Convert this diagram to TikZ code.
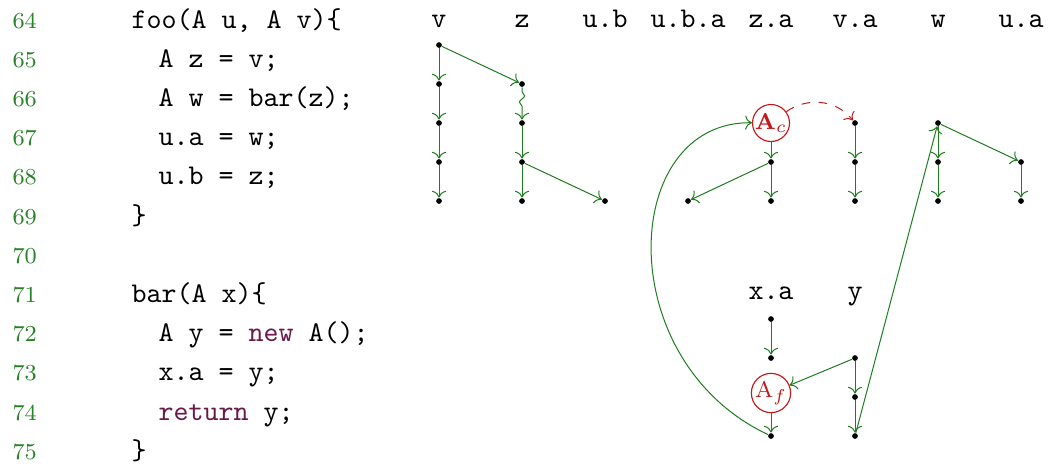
\documentclass[tikz,border=0pt]{standalone}
\usepackage{amsmath,amssymb}
\usepackage{tikz}
\usetikzlibrary{arrows.meta,decorations.pathmorphing}

\definecolor{lngreen}{RGB}{40,130,40}
\definecolor{kwpurple}{RGB}{105,25,75}
\definecolor{edgegreen}{RGB}{30,125,30}
\definecolor{allocred}{RGB}{195,25,25}

\begin{document}
\begin{tikzpicture}[
  x=0.35pt, y=-0.35pt,
  lnum/.style={font=\footnotesize, text=lngreen, anchor=base west, inner sep=0pt},
  code/.style={font=\ttfamily, anchor=base west, inner sep=0pt},
  head/.style={font=\ttfamily, anchor=base, inner sep=0pt},
  vdot/.style={circle, fill=black, inner sep=0pt, minimum size=2pt},
  alloc/.style={circle, draw=allocred, text=allocred, inner sep=0pt, minimum size=11.8pt, font=\footnotesize},
  flow/.style={draw=edgegreen, line width=0.35pt, ->},
  wflow/.style={flow, decorate, decoration={snake, amplitude=0.9pt, segment length=4.5pt, pre length=1.5pt, post length=2.5pt}},
  dflow/.style={draw=allocred, line width=0.35pt, dashed, ->}
]
\useasboundingbox (0,0) rectangle (1048,463);

% source listing
\node[lnum] (l64) at (12, 28.0) {64};
\node[lnum] (l65) at (12, 67.2) {65};
\node[lnum] (l66) at (12, 106.4) {66};
\node[lnum] (l67) at (12, 145.6) {67};
\node[lnum] (l68) at (12, 184.8) {68};
\node[lnum] (l69) at (12, 224.0) {69};
\node[lnum] (l70) at (12, 263.2) {70};
\node[lnum] (l71) at (12, 302.4) {71};
\node[lnum] (l72) at (12, 341.6) {72};
\node[lnum] (l73) at (12, 380.8) {73};
\node[lnum] (l74) at (12, 420.0) {74};
\node[lnum] (l75) at (12, 459.2) {75};
\node[code] (c64) at (131, 28.0) {foo(A u, A v)\{};
\node[code] (c65) at (158, 67.2) {A z = v;};
\node[code] (c66) at (158, 106.4) {A w = bar(z);};
\node[code] (c67) at (158, 145.6) {u.a = w;};
\node[code] (c68) at (158, 184.8) {u.b = z;};
\node[code] (c69) at (131, 224.0) {\}};
\node[code] (c71) at (131, 302.4) {bar(A x)\{};
\node[code] (c72) at (158, 341.6) {A y = \textcolor{kwpurple}{new} A();};
\node[code] (c73) at (158, 380.8) {x.a = y;};
\node[code] (c74) at (158, 420.0) {\textcolor{kwpurple}{return} y;};
\node[code] (c75) at (131, 459.2) {\}};

% column heads
\node[head] (hv) at (439, 27) {v};
\node[head] (hz) at (522, 27) {z};
\node[head] (hub) at (605, 27) {u.b};
\node[head] (huba) at (688, 27) {u.b.a};
\node[head] (hza) at (771, 27) {z.a};
\node[head] (hva) at (855, 27) {v.a};
\node[head] (hw) at (938, 27) {w};
\node[head] (hua) at (1021, 27) {u.a};
\node[head] (hxa) at (771, 299) {x.a};
\node[head] (hy) at (855, 299) {y};

% foo
\node[vdot] (v1) at (439, 45) {};
\node[vdot] (v2) at (439, 84) {};
\node[vdot] (v3) at (439, 123) {};
\node[vdot] (v4) at (439, 162) {};
\node[vdot] (v5) at (439, 201) {};
\node[vdot] (z1) at (522, 84) {};
\node[vdot] (z2) at (522, 123) {};
\node[vdot] (z3) at (522, 162) {};
\node[vdot] (z4) at (522, 201) {};
\node[vdot] (ub1) at (605, 201) {};
\node[vdot] (uba1) at (688, 201) {};
\node[alloc] (Ac) at (771, 123) {$\mathbf{A}_c$};
\node[vdot] (za1) at (771, 162) {};
\node[vdot] (za2) at (771, 201) {};
\node[vdot] (va1) at (855, 123) {};
\node[vdot] (va2) at (855, 162) {};
\node[vdot] (va3) at (855, 201) {};
\node[vdot] (w1) at (938, 123) {};
\node[vdot] (w2) at (938, 162) {};
\node[vdot] (w3) at (938, 201) {};
\node[vdot] (ua1) at (1021, 162) {};
\node[vdot] (ua2) at (1021, 201) {};

% bar
\node[vdot] (xa1) at (771, 319) {};
\node[vdot] (xa2) at (771, 358) {};
\node[alloc] (Af) at (771, 393) {$\mathrm{A}_f$};
\node[vdot] (xa3) at (771, 436) {};
\node[vdot] (y1) at (855, 358) {};
\node[vdot] (y2) at (855, 397) {};
\node[vdot] (y3) at (855, 436) {};

\draw[flow] (v1) -- (v2);
\draw[flow] (v2) -- (v3);
\draw[flow] (v3) -- (v4);
\draw[flow] (v4) -- (v5);
\draw[flow] (v1) -- (z1);
\draw[wflow] (z1) -- (z2);
\draw[flow] (z2) -- (z3);
\draw[flow] (z3) -- (z4);
\draw[flow] (z3) -- (ub1);
\draw[flow] (Ac) -- (za1);
\draw[flow] (za1) -- (za2);
\draw[flow] (za1) -- (uba1);
\draw[dflow] (Ac) .. controls (805,98) and (835,98) .. (va1);
\draw[flow] (va1) -- (va2);
\draw[flow] (va2) -- (va3);
\draw[flow] (w1) -- (w2);
\draw[flow] (w2) -- (w3);
\draw[flow] (w1) -- (ua1);
\draw[flow] (ua1) -- (ua2);
\draw[flow] (xa1) -- (xa2);
\draw[flow] (Af) -- (xa3);
\draw[flow] (y1) -- (y2);
\draw[flow] (y2) -- (y3);
\draw[flow] (y1) -- (Af);
\draw[flow] (y3) -- (w1);
\draw[flow] (xa3) .. controls (610,360) and (620,121) .. (Ac);

\end{tikzpicture}
\end{document}
